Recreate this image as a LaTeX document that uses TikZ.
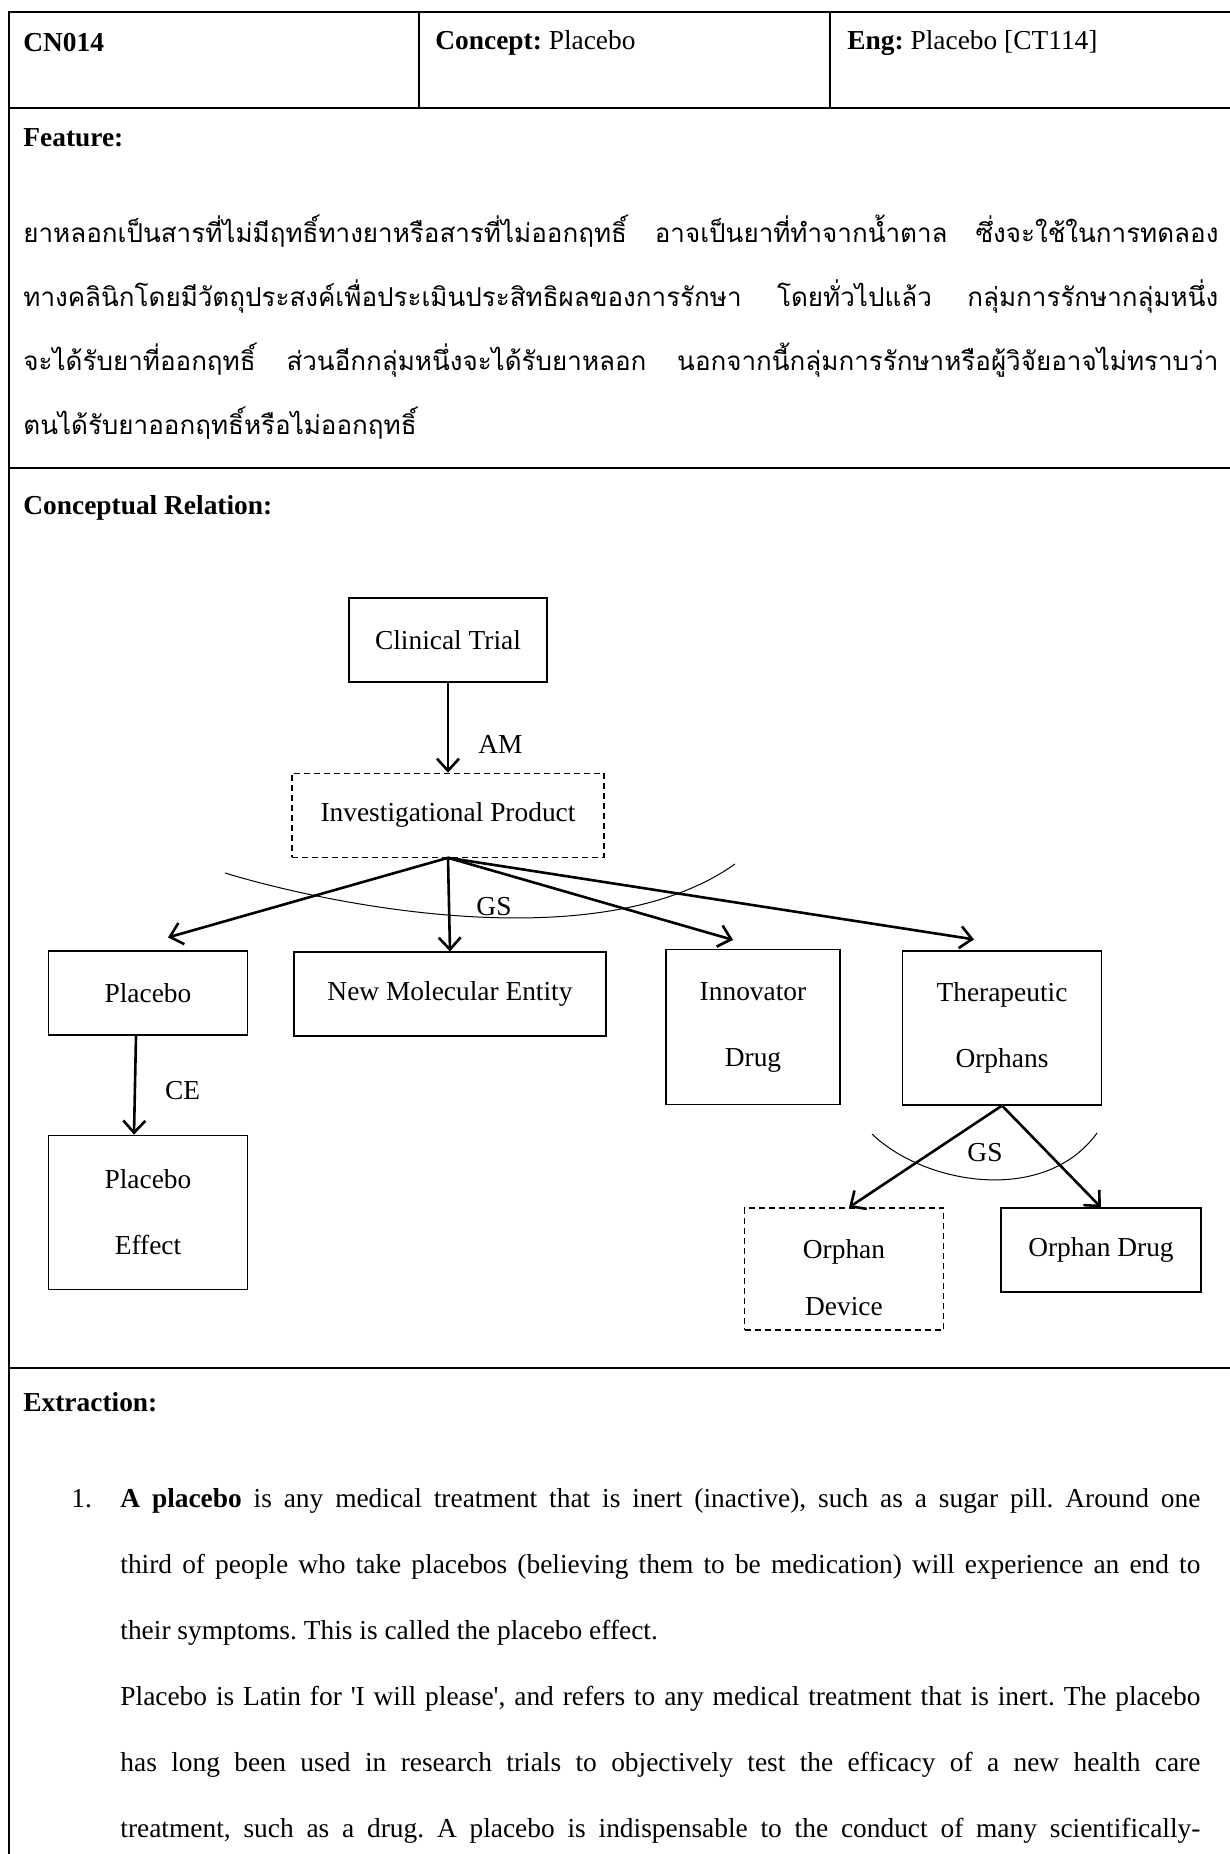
\documentclass[tikz,border=0pt]{standalone}
\usepackage{fontspec}
\setmainfont{Liberation Serif}
\newfontfamily\thaifont[Script=Thai]{Loma}
\usetikzlibrary{arrows.meta, positioning, calc}
\newcommand{\diagfont}{\fontsize{13.7}{33}\selectfont}
\newcommand{\bodyfont}{\fontsize{13.7}{33}\selectfont\frenchspacing}

\begin{document}
\begin{tikzpicture}[
    x=0.5pt, y=-0.5pt,
    box/.style={rectangle, draw, line width=0.6pt, minimum height=42pt,
                inner sep=0pt, align=center, font=\diagfont},
    dbox/.style={box, dash pattern=on 3pt off 2pt},
    arr/.style={-{Straight Barb[length=6pt, width=11pt]}, line width=1.3pt},
    lbl/.style={inner sep=0pt, font=\diagfont},
    gsarc/.style={line width=0.5pt},
    rule/.style={line width=1.4pt},
    colrule/.style={line width=0.8pt},
    head/.style={anchor=west, inner sep=0pt, font=\bodyfont},
]
\useasboundingbox (0,0) rectangle (1230,1854);

% Table
\draw[rule] (9,1854) -- (9,12) -- (1230,12);
\draw[rule] (9,108) -- (1230,108);
\draw[rule] (9,468) -- (1230,468);
\draw[rule] (9,1368) -- (1230,1368);
\draw[colrule] (419,12) -- (419,108);
\draw[colrule] (830,12) -- (830,108);

% Header
\node[head] (code) at (23,43) {\textbf{CN014}};
\node[head] (concept) at (435,43) {\textbf{Concept:} Placebo};
\node[head] (eng) at (847,43) {\textbf{Eng:} Placebo [CT114]};

% Feature
\node[head] (feature) at (23,138) {\textbf{Feature:}};
\node[anchor=north west, inner sep=0pt, text width=597.5pt, align=justify,
      font=\thaifont\fontsize{13}{32}\selectfont] (thai) at (23,197) {\strut
ยาหลอกเป็นสารที่ไม่มีฤทธิ์ทางยาหรือสารที่ไม่ออกฤทธิ์ อาจเป็นยาที่ทำจากน้ำตาล ซึ่งจะใช้ในการทดลอง\linebreak
ทางคลินิกโดยมีวัตถุประสงค์เพื่อประเมินประสิทธิผลของการรักษา โดยทั่วไปแล้ว กลุ่มการรักษากลุ่มหนึ่ง\linebreak
จะได้รับยาที่ออกฤทธิ์ ส่วนอีกกลุ่มหนึ่งจะได้รับยาหลอก นอกจากนี้กลุ่มการรักษาหรือผู้วิจัยอาจไม่ทราบว่า\linebreak
ตนได้รับยาออกฤทธิ์หรือไม่ออกฤทธิ์};

% Conceptual relation
\node[head] (relation) at (23,508) {\textbf{Conceptual Relation:}};

\node[box, minimum width=99pt] (trial) at (448,640) {Clinical Trial};
\node[dbox, minimum width=156pt, below=45pt of trial] (invest) {Investigational Product};

\node[box, minimum width=99.5pt] (placebo) at (148,993) {Placebo};
\node[box, minimum width=156pt] (nme) at (450,994) {New Molecular Entity};
\node[box, minimum width=87pt, minimum height=77.5pt] (innov) at (753,1027) {Innovator\\Drug};
\node[box, minimum width=99.5pt, minimum height=77pt] (thera) at (1002,1028) {Therapeutic\\Orphans};
\node[box, minimum width=99.5pt, minimum height=77pt, below=49.5pt of placebo] (effect) {Placebo\\Effect};
\node[dbox, minimum width=99.5pt, minimum height=61pt] (odev) at (844,1269) {\rule{0pt}{18.5pt}Orphan\\[-4.5pt]Device};
\node[box, minimum width=100pt] (odrug) at (1101,1250) {Orphan Drug};

% Arrows
\draw[arr] (trial) -- node[lbl, pos=0.69, anchor=west, xshift=14.5pt] (am) {AM} (invest);
\draw[arr] (invest.south) -- ($(placebo.north)+(20,-13)$);
\draw[arr] (invest.south) -- (nme.north);
\draw[arr] (invest.south) -- ($(innov.north)+(-20,-9)$);
\draw[arr] (invest.south) -- ($(thera.north)+(-28,-11)$);
\draw[arr] ($(placebo.south)+(-12,0)$) -- node[lbl, pos=0.56, anchor=west, xshift=14.5pt] (ce) {CE} ($(effect.north)+(-14,0)$);
\draw[arr] (thera.south) -- ($(odev.north)+(5,0)$);
\draw[arr] (thera.south) -- (odrug.north);

% GS arcs
\draw[gsarc] (225,873) .. controls (330,905) and (600,960) .. (735,864);
\node[lbl] (gs1) at (494,907) {GS};
\draw[gsarc] (872,1134) .. controls (925,1185) and (1045,1205) .. (1097,1133);
\node[lbl] (gs2) at (985,1153) {GS};

% Extraction
\node[head] (extract) at (23,1402) {\textbf{Extraction:}};
\node[anchor=north west, inner sep=0pt, font=\bodyfont] (num) at (71,1461) {\strut 1.};
\node[anchor=north west, inner sep=0pt, text width=540pt, align=justify,
      font=\bodyfont] (item) at (120,1461) {\strut
\textbf{A placebo} is any medical treatment that is inert (inactive), such as a sugar pill. Around one\linebreak
third of people who take placebos (believing them to be medication) will experience an end to\linebreak
their symptoms. This is called the placebo effect.\par
Placebo is Latin for \textquotesingle I will please\textquotesingle, and refers to any medical treatment that is inert. The placebo\linebreak
has long been used in research trials to objectively test the efficacy of a new health care\linebreak
treatment, such as a drug. A placebo is indispensable to the conduct of many scientifically-\parfillskip=0pt\par};

\end{tikzpicture}
\end{document}
